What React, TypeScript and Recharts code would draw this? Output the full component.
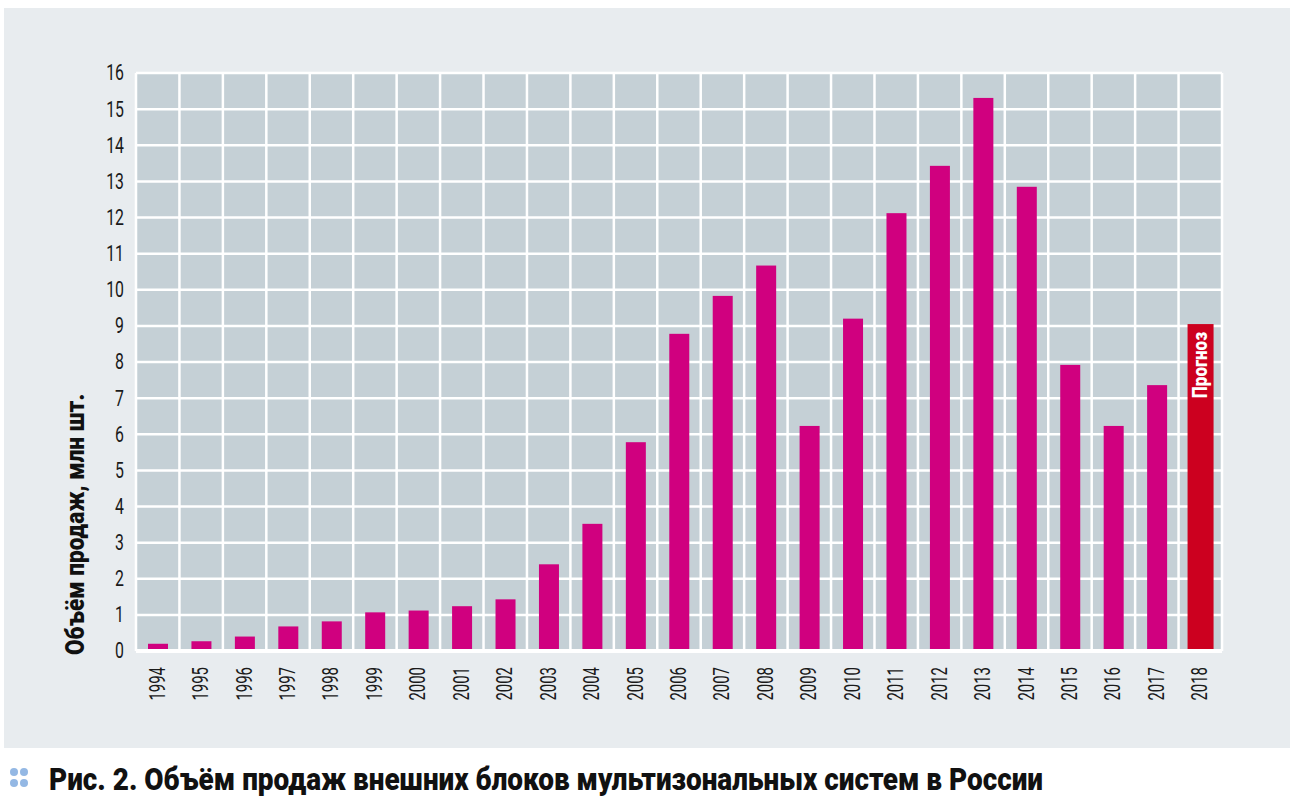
import React from 'react';
import { BarChart, Bar, XAxis, YAxis, CartesianGrid, Label } from 'recharts';

const years = ['1994','1995','1996','1997','1998','1999','2000','2001','2002','2003','2004','2005','2006','2007','2008','2009','2010','2011','2012','2013','2014','2015','2016','2017','2018'];
const sales = [0.2,0.27,0.4,0.68,0.82,1.07,1.12,1.24,1.43,2.4,3.52,5.78,8.78,9.83,10.67,6.23,9.2,12.12,13.43,15.31,12.85,7.92,6.23,7.36,9.05];
const forecastYear = '2018';
const yTicks = [0,1,2,3,4,5,6,7,8,9,10,11,12,13,14,15,16];
const yTitle = 'Объём продаж, млн шт.';
const forecastLabel = 'Прогноз';
const captionLead = 'Рис. 2.';
const captionText = 'Объём продаж внешних блоков мультизональных систем в России';

const data = years.map((y, i) => ({ year: y, value: sales[i] }));

const FONT = 'Roboto, "Liberation Sans", sans-serif';
const MAGENTA = '#d0007f';
const RED = '#cc001f';

const BarShape = (props: any) => {
  const { x, y, width, height, payload } = props;
  const forecast = payload.year === forecastYear;
  const w = forecast ? width * 1.3 : width;
  const nx = x + (width - w) / 2;
  return (
    <g>
      <rect x={nx} y={y} width={w} height={height} fill={forecast ? RED : MAGENTA} />
      {forecast && (
        <text
          transform={`translate(${x + width / 2}, ${y + 8}) rotate(-90) scale(0.85, 1)`}
          textAnchor="end"
          dominantBaseline="central"
          fill="#ffffff"
          fontFamily={FONT}
          fontWeight={900}
          fontSize={20}
        >
          {forecastLabel}
        </text>
      )}
    </g>
  );
};

const XTick = (props: any) => {
  const { x, y, payload } = props;
  return (
    <text
      transform={`translate(${x}, ${y + 8}) rotate(-90) scale(0.68, 1)`}
      textAnchor="end"
      dominantBaseline="central"
      fill="#1a1a1a"
      fontFamily={FONT}
      fontSize={22}
    >
      {payload.value}
    </text>
  );
};

const YTick = (props: any) => {
  const { x, y, payload } = props;
  return (
    <text
      transform={`translate(${x}, ${y}) scale(0.72, 1)`}
      textAnchor="end"
      dominantBaseline="central"
      fill="#1a1a1a"
      fontFamily={FONT}
      fontSize={22}
    >
      {payload.value}
    </text>
  );
};

const YTitle = (props: any) => {
  const { viewBox } = props;
  const cx = 75;
  const bottom = viewBox.y + viewBox.height + 4;
  return (
    <text
      transform={`translate(${cx}, ${bottom}) rotate(-90) scale(0.87, 1)`}
      textAnchor="start"
      dominantBaseline="central"
      fill="#111111"
      fontFamily={FONT}
      fontWeight={900}
      fontSize={26}
    >
      {yTitle}
    </text>
  );
};

const verticalGen = ({ offset }: any) => {
  const out: number[] = [];
  for (let i = 0; i <= years.length; i++) {
    out.push(offset.left + (offset.width * i) / years.length);
  }
  return out;
};

export default function App() {
  return (
    <div style={{ position: 'absolute', left: 0, top: 0, width: 1295, height: 806, background: '#ffffff', overflow: 'hidden' }}>
      <div style={{ position: 'absolute', left: 4, top: 8, width: 1286, height: 740, background: '#e8ecef' }} />
      <div style={{ position: 'absolute', left: 0, top: 0 }}>
        <BarChart
          width={1295}
          height={806}
          data={data}
          margin={{ top: 73, right: 73, bottom: 0, left: 0 }}
        >
          <CartesianGrid
            fill="#c5d0d6"
            stroke="#ffffff"
            strokeWidth={2.5}
            strokeOpacity={1}
            verticalCoordinatesGenerator={verticalGen}
          />
          <XAxis
            dataKey="year"
            height={155}
            interval={0}
            tickLine={false}
            axisLine={{ stroke: '#ffffff', strokeWidth: 4 }}
            tick={<XTick />}
          />
          <YAxis
            width={136}
            domain={[0, 16]}
            ticks={yTicks}
            interval={0}
            tickLine={false}
            axisLine={false}
            tickSize={0}
            tickMargin={12}
            tick={<YTick />}
          >
            <Label content={<YTitle />} />
          </YAxis>
          <Bar dataKey="value" barSize={20} shape={<BarShape />} isAnimationActive={false} />
        </BarChart>
      </div>
      <svg style={{ position: 'absolute', left: 0, top: 762 }} width={40} height={36}>
        <circle cx={14} cy={10} r={4} fill="#94b8e4" />
        <circle cx={24} cy={10} r={4} fill="#94b8e4" />
        <circle cx={14} cy={21} r={4} fill="#94b8e4" />
        <circle cx={24} cy={21} r={4} fill="#94b8e4" />
      </svg>
      <div
        style={{
          position: 'absolute',
          left: 49,
          top: 760,
          fontFamily: FONT,
          fontWeight: 900,
          fontSize: 31,
          color: '#111111',
          whiteSpace: 'nowrap',
          lineHeight: '40px',
          transform: 'scaleX(0.9)',
          transformOrigin: 'left center',
        }}
      >
        {captionLead} {captionText}
      </div>
    </div>
  );
}
